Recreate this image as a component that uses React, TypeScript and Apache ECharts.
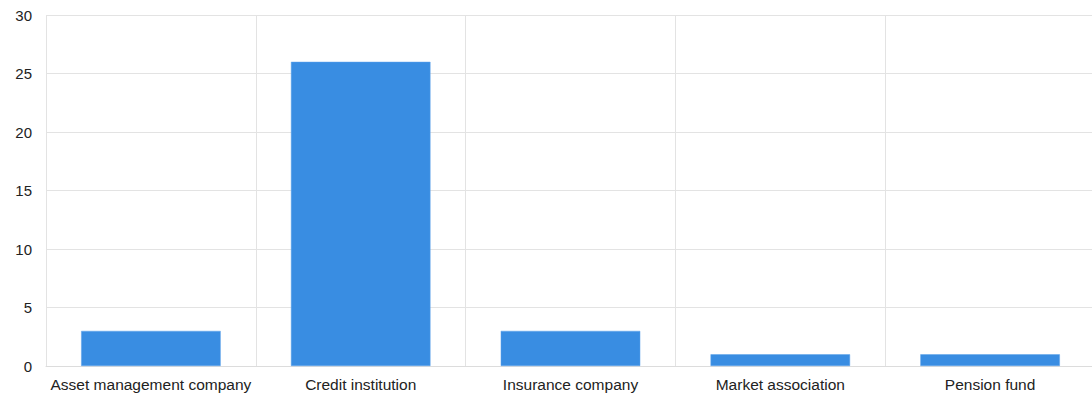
import React, { useEffect, useRef } from "react";
import * as echarts from "echarts";

const categories = [
  "Asset management company",
  "Credit institution",
  "Insurance company",
  "Market association",
  "Pension fund",
];
const values = [3, 26, 3, 1, 1];
const yTicks = { min: 0, max: 30, interval: 5 };

export default function App() {
  const ref = useRef<HTMLDivElement>(null);
  useEffect(() => {
    if (!ref.current) return;
    const chart = echarts.init(ref.current, null, { renderer: "svg" });
    chart.setOption({
      animation: false,
      grid: { left: 46, right: 5, top: 15, bottom: 28, containLabel: false },
      xAxis: {
        type: "category",
        data: categories,
        boundaryGap: true,
        axisLine: { show: true, lineStyle: { color: "#dcdcdc", width: 1 } },
        axisTick: { show: false },
        axisLabel: {
          color: "#222",
          fontSize: 15.5,
          fontFamily: "Liberation Sans, Arial, sans-serif",
          margin: 10,
          interval: 0,
        },
        splitLine: { show: true, interval: 0, lineStyle: { color: "#e3e3e3", width: 1 } },
      },
      yAxis: {
        type: "value",
        min: yTicks.min,
        max: yTicks.max,
        interval: yTicks.interval,
        axisLine: { show: false },
        axisTick: { show: false },
        axisLabel: {
          color: "#222",
          fontSize: 15,
          fontFamily: "Liberation Sans, Arial, sans-serif",
          margin: 14,
        },
        splitLine: { show: true, lineStyle: { color: "#e3e3e3", width: 1 } },
      },
      series: [
        {
          type: "bar",
          data: values,
          barWidth: "66.5%",
          itemStyle: { color: "#398de2", borderColor: "#5ea3ea", borderWidth: 0.5 },
        },
      ],
    });
    return () => chart.dispose();
  }, []);
  return (
    <div style={{ position: "absolute", left: 0, top: 0, width: 1092, height: 394, overflow: "hidden", background: "#fff" }}>
      <div ref={ref} style={{ width: 1100, height: 394 }} />
    </div>
  );
}
